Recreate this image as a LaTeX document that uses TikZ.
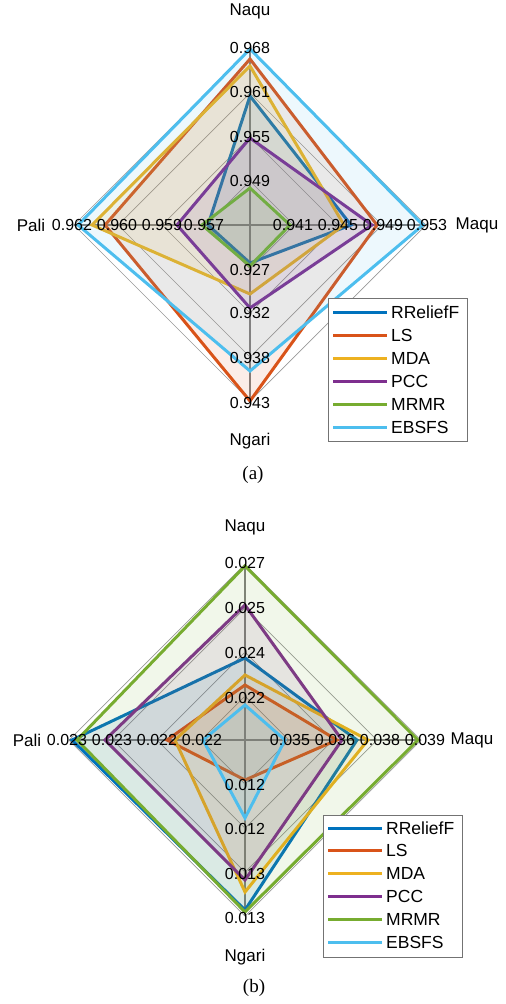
\documentclass[tikz,border=0pt]{standalone}
\usepackage{fontspec}
\setmainfont{Liberation Sans}
\newfontfamily\capfont{Liberation Serif}
\definecolor{cRR}{HTML}{0072BD}
\definecolor{cLS}{HTML}{D95319}
\definecolor{cMDA}{HTML}{EDB120}
\definecolor{cPCC}{HTML}{7E2F8E}
\definecolor{cMR}{HTML}{77AC30}
\definecolor{cEB}{HTML}{4DBEEE}
\tikzset{
  ring/.style={draw=black!40, line width=0.7pt},
  axisline/.style={draw=black!50, line width=2pt},
  series/.style={draw=#1, fill=#1, fill opacity=0.10, draw opacity=1, line width=3pt, line join=miter},
  ticklab/.style={font=\fontsize{16}{18}\selectfont, inner sep=0pt},
  axlab/.style={font=\fontsize{17}{19}\selectfont, inner sep=0pt},
  legbox/.style={draw=black!55, fill=white, line width=1pt},
  legline/.style={draw=#1, line width=3pt},
  legtext/.style={font=\fontsize{17.5}{19}\selectfont, anchor=west, inner sep=0pt},
  caplab/.style={font=\capfont\fontsize{19}{21}\selectfont, inner sep=0pt}
}
% \myradar{cx}{cy}{colour}{rN}{rM}{rG}{rP}
\newcommand\myradar[7]{%
  \draw[series=#3] (#1,#2-#4) -- (#1+#5,#2) -- (#1,#2+#6) -- (#1-#7,#2) -- cycle;}
\newcommand\mygrid[2]{%
  \foreach \r in {44,88,132,176}{
    \draw[ring] (#1,#2-\r) -- (#1+\r,#2) -- (#1,#2+\r) -- (#1-\r,#2) -- cycle;}
  \draw[axisline] (#1,#2-176) -- (#1,#2+176);
  \draw[axisline] (#1-176,#2) -- (#1+176,#2);}
\begin{document}
\begin{tikzpicture}[x=1pt,y=-1pt]
\useasboundingbox (0,0) rectangle (506,1004);
% ---------------- chart (a) ----------------
\mygrid{250}{225}
\myradar{250}{225}{cRR}{129}{101}{38}{42}
\myradar{250}{225}{cLS}{166}{127}{176}{145}
\myradar{250}{225}{cMDA}{159}{94}{69}{158}
\myradar{250}{225}{cPCC}{87}{122}{83}{73}
\myradar{250}{225}{cMR}{37}{40}{41}{48}
\myradar{250}{225}{cEB}{176}{173}{146}{172}
% tick labels (a)
\node[ticklab] (a-n4) at (250,48) {0.968};
\node[ticklab] (a-n3) at (250,92) {0.961};
\node[ticklab] (a-n2) at (250,137) {0.955};
\node[ticklab] (a-n1) at (250,181) {0.949};
\node[ticklab] (a-s1) at (250,270) {0.927};
\node[ticklab] (a-s2) at (250,313) {0.932};
\node[ticklab] (a-s3) at (250,358) {0.938};
\node[ticklab] (a-s4) at (250,403) {0.943};
\node[ticklab] (a-w4) at (72,225) {0.962};
\node[ticklab] (a-w3) at (117,225) {0.960};
\node[ticklab] (a-w2) at (162,225) {0.959};
\node[ticklab] (a-w1) at (204,225) {0.957};
\node[ticklab] (a-e1) at (293,225) {0.941};
\node[ticklab] (a-e2) at (338,225) {0.945};
\node[ticklab] (a-e3) at (383,225) {0.949};
\node[ticklab] (a-e4) at (427,225) {0.953};
\node[axlab] (a-naqu) at (250,11) {Naqu};
\node[axlab] (a-ngari) at (250,441) {Ngari};
\node[axlab] (a-pali) at (31,225) {Pali};
\node[axlab] (a-maqu) at (477,225) {Maqu};
% legend (a)
\draw[legbox] (328,298) rectangle (467,441);
\foreach \c/\t [count=\i from 0] in {cRR/RReliefF,cLS/LS,cMDA/MDA,cPCC/PCC,cMR/MRMR,cEB/EBSFS}{
  \draw[legline=\c] (333,312+23*\i) -- (387,312+23*\i);
  \node[legtext] (a-leg\i) at (391,312+23*\i) {\t};}
\node[caplab] (a-cap) at (253,475) {(a)};
% ---------------- chart (b) ----------------
\mygrid{245}{740}
\myradar{245}{740}{cRR}{82}{112}{170}{173}
\myradar{245}{740}{cLS}{55}{92}{40}{78}
\myradar{245}{740}{cMDA}{65}{123}{152}{70}
\myradar{245}{740}{cPCC}{135}{97}{140}{140}
\myradar{245}{740}{cMR}{174}{173}{172}{168}
\myradar{245}{740}{cEB}{35}{40}{78}{42}
% tick labels (b)
\node[ticklab] (b-n4) at (245,563) {0.027};
\node[ticklab] (b-n3) at (245,608) {0.025};
\node[ticklab] (b-n2) at (245,653) {0.024};
\node[ticklab] (b-n1) at (245,698) {0.022};
\node[ticklab] (b-s1) at (245,785) {0.012};
\node[ticklab] (b-s2) at (245,829) {0.012};
\node[ticklab] (b-s3) at (245,874) {0.013};
\node[ticklab] (b-s4) at (245,918) {0.013};
\node[ticklab] (b-w4) at (67,740) {0.023};
\node[ticklab] (b-w3) at (112,740) {0.023};
\node[ticklab] (b-w2) at (157,740) {0.022};
\node[ticklab] (b-w1) at (202,740) {0.022};
\node[ticklab] (b-e1) at (290,740) {0.035};
\node[ticklab] (b-e2) at (335,740) {0.036};
\node[ticklab] (b-e3) at (380,740) {0.038};
\node[ticklab] (b-e4) at (425,740) {0.039};
\node[axlab] (b-naqu) at (245,527) {Naqu};
\node[axlab] (b-ngari) at (245,957) {Ngari};
\node[axlab] (b-pali) at (27,740) {Pali};
\node[axlab] (b-maqu) at (472,740) {Maqu};
% legend (b)
\draw[legbox] (323,815) rectangle (462,957);
\foreach \c/\t [count=\i from 0] in {cRR/RReliefF,cLS/LS,cMDA/MDA,cPCC/PCC,cMR/MRMR,cEB/EBSFS}{
  \draw[legline=\c] (328,828+22.8*\i) -- (382,828+22.8*\i);
  \node[legtext] (b-leg\i) at (386,828+22.8*\i) {\t};}
\node[caplab] (b-cap) at (254,988) {(b)};
\end{tikzpicture}
\end{document}
